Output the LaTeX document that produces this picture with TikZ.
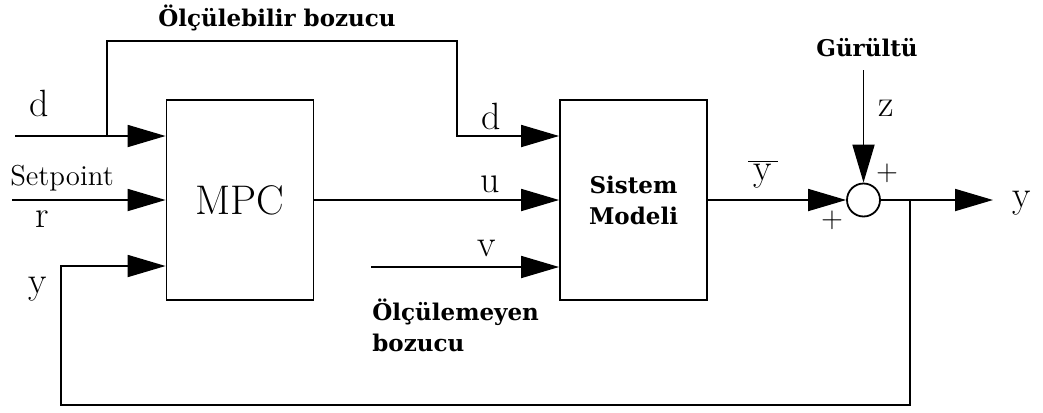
\documentclass[tikz,border=0pt]{standalone}
\usepackage{fontspec}
\newfontfamily\labelfont{DejaVu Serif}
\usetikzlibrary{arrows.meta}

\begin{document}
\begin{tikzpicture}[x=0.5pt, y=-0.5pt,
    block/.style={draw, line width=0.9pt, minimum width=73.5pt, minimum height=100pt, inner sep=0pt},
    signal/.style={line width=0.9pt, -{Triangle[length=19pt, width=11pt]}},
    letter/.style={font=\fontsize{19}{22}\selectfont, inner sep=0pt},
    plus/.style={font=\Large, inner sep=0pt},
    caption/.style={font=\labelfont\bfseries\fontsize{11.5}{15.5}\selectfont, inner sep=0pt}]
  \useasboundingbox[fill=white] (0,0) rectangle (1043,412);

  % Blocks
  \node[block] (mpc) at (240,200) {\fontsize{20.7}{24}\selectfont MPC};
  \node[block, caption, align=center] (model) at (633.5,200) {Sistem\\Modeli};
  \node[draw, circle, line width=0.9pt, minimum size=16.5pt, inner sep=0pt] (sum) at (863.5,200) {};

  % Points
  \coordinate (dIn) at (15,136);
  \coordinate (dTap) at (107,136);
  \coordinate (dTop) at (457,41);
  \coordinate (rIn) at (12,200);
  \coordinate (yIn) at (61,266);
  \coordinate (fbLow) at (61,405);
  \coordinate (vIn) at (371,267);
  \coordinate (zIn) at (863.5,70);
  \coordinate (yTap) at (910,200);
  \coordinate (yOut) at (993,200);

  % Signals
  \draw[signal] (dIn) -- (dIn -| mpc.west);
  \draw[signal] (dTap) |- (dTop) |- (dIn -| model.west);
  \draw[signal] (rIn) -- (mpc.west);
  \draw[signal] (yTap) |- (fbLow) -- (yIn) -- (yIn -| mpc.west);
  \draw[signal] (mpc.east) -- (model.west);
  \draw[signal] (vIn) -- (vIn -| model.west);
  \draw[signal] (model.east) -- (sum.west);
  \draw[signal] (zIn) -- (sum.north);
  \draw[signal] (sum.east) -- (yOut);

  % Labels
  \node[caption] (lblMeasured) at (277,18) {Ölçülebilir bozucu};
  \node[letter] (lblD1) at (39,103) {d};
  \node[font=\Large, inner sep=0pt] (lblSet) at (62,178) {Setpoint};
  \node[letter] (lblR) at (42,219) {r};
  \node[letter] (lblY1) at (38,289) {y};
  \node[letter] (lblD2) at (491,116) {d};
  \node[letter] (lblU) at (490,184) {u};
  \node[letter] (lblV) at (487,248) {v};
  \node[caption, align=left, anchor=north west] (lblUnmeasured) at (372,298) {Ölçülemeyen\\bozucu};
  \node[letter] (lblYbar) at (763,174) {$\overline{\mkern3mu\mathrm{y}\mkern3mu}$};
  \node[caption] (lblNoise) at (867,48) {Gürültü};
  \node[letter] (lblZ) at (886,108) {z};
  \node[plus] (lblPlusTop) at (887,173) {$+$};
  \node[plus] (lblPlusLeft) at (832,220) {$+$};
  \node[letter] (lblY2) at (1022,203) {y};
\end{tikzpicture}
\end{document}
